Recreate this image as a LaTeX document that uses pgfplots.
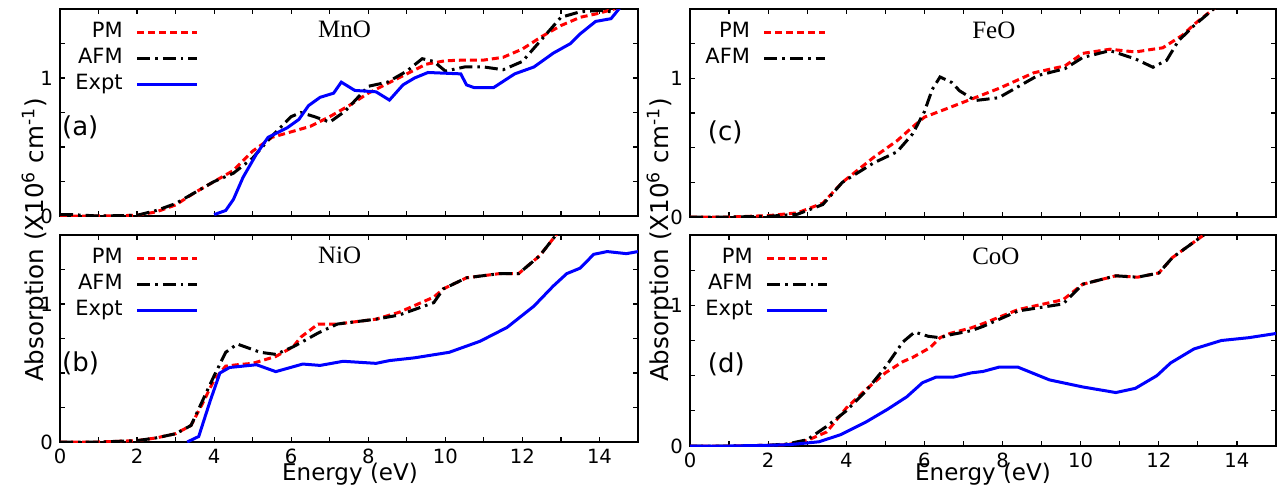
\documentclass[border=0pt]{standalone}
\usepackage{fontspec}
\setmainfont{DejaVu Sans}
\newfontfamily\seriffont{Liberation Serif}
\usepackage{pgfplots}
\pgfplotsset{compat=1.18}
\tikzset{
  ttl/.style={anchor=base west, inner sep=0pt, font=\seriffont\fontsize{12.5}{14}\selectfont},
  lbl/.style={anchor=base west, inner sep=0pt, font=\fontsize{13}{15}\selectfont},
}
\pgfplotsset{
  panel/.style={
    scale only axis, width=289pt, height=103.5pt,
    xmin=0, xmax=15, ymin=0, ymax=1.5,
    xtick={0,2,...,14}, minor xtick={1,3,...,15},
    ytick={0,1}, minor ytick={0.25,0.5,0.75,1.25},
    tick align=inside, major tick length=2.5pt, minor tick length=2.5pt,
    tick style={line width=0.6pt, black},
    axis line style={line width=0.8pt},
    /pgf/number format/assume math mode=true,
    tick label style={font=\fontsize{9.8}{12}\selectfont},
    legend plot pos=right, legend cell align=right,
    legend style={draw=none, fill=none, at={(axis description cs:0,1)}, anchor=north west, xshift=3pt, yshift=-3pt,
      font=\fontsize{10.5}{12}\selectfont, column sep=5pt, row sep=0pt,
      nodes={inner sep=1.5pt, text height=7.5pt, text depth=2.5pt}},
    legend image code/.code={\draw[#1] plot coordinates {(0cm,0cm) (0.53cm,0cm) (1.06cm,0cm)};},
  },
  pm/.style={red, line width=1.5pt, dash pattern=on 3.5pt off 2pt},
  afm/.style={black, line width=1.5pt, dash pattern=on 6.5pt off 2.5pt on 1.3pt off 2.5pt},
  ex/.style={blue, line width=1.5pt},
}
\begin{document}
\begin{tikzpicture}
\useasboundingbox (0,0) rectangle (638.5pt,-244.5pt);
% (a) MnO
\begin{axis}[panel, at={(30pt,-4.5pt)}, anchor=north west, xticklabels={}]
\addplot[pm] coordinates {(0,0) (1,0) (2,0.005) (2.5,0.03) (3,0.08) (3.5,0.17) (4,0.25) (4.5,0.33) (5,0.47) (5.5,0.57) (6,0.61) (6.5,0.65) (7,0.72) (7.5,0.8) (8,0.89) (8.5,0.96) (9,1.03) (9.5,1.1) (10,1.125) (10.5,1.13) (11,1.13) (11.5,1.15) (12,1.21) (12.5,1.3) (13,1.38) (13.5,1.44) (14,1.47) (14.5,1.51) (15,1.55)};
\addlegendentry{PM}
\addplot[afm] coordinates {(0,0.01) (0.3,0.01) (1,0) (2,0.005) (2.5,0.04) (3,0.09) (3.5,0.17) (4,0.25) (4.5,0.31) (5,0.42) (5.5,0.58) (6,0.72) (6.25,0.75) (6.6,0.72) (7,0.68) (7.4,0.76) (8,0.94) (8.5,0.97) (9,1.05) (9.4,1.14) (9.7,1.12) (10,1.05) (10.5,1.08) (11,1.08) (11.5,1.06) (12,1.12) (12.5,1.28) (13,1.44) (13.5,1.48) (14,1.49) (14.3,1.48) (14.6,1.55)};
\addlegendentry{AFM}
\addplot[ex] coordinates {(4.0,0.01) (4.3,0.04) (4.5,0.12) (4.75,0.28) (5.1,0.45) (5.4,0.57) (5.9,0.64) (6.2,0.7) (6.45,0.8) (6.75,0.86) (7.1,0.89) (7.3,0.97) (7.65,0.91) (8.2,0.9) (8.55,0.84) (8.9,0.95) (9.2,1.0) (9.55,1.04) (10.4,1.03) (10.55,0.95) (10.75,0.93) (11.25,0.93) (11.8,1.03) (12.3,1.08) (12.8,1.18) (13.25,1.25) (13.5,1.32) (13.9,1.41) (14.3,1.43) (14.65,1.55)};
\addlegendentry{Expt}
\node[ttl] at (axis description cs:0.446,0.86) {MnO};
\node[lbl] at (axis description cs:0.003,0.39) {(a)};
\end{axis}
% (b) NiO
\begin{axis}[panel, at={(30pt,-117.5pt)}, anchor=north west]
\addplot[pm] coordinates {(0,0) (1,0) (2,0.01) (2.5,0.03) (3,0.06) (3.4,0.12) (3.7,0.28) (4,0.45) (4.3,0.55) (4.6,0.56) (5,0.57) (5.6,0.62) (6.05,0.69) (6.25,0.76) (6.7,0.855) (7.2,0.855) (8.2,0.89) (8.8,0.94) (9.7,1.05) (9.95,1.11) (10.55,1.19) (11.4,1.22) (11.9,1.22) (12.45,1.35) (12.9,1.51) (13,1.55)};
\addlegendentry{PM}
\addplot[afm] coordinates {(0,0) (1,0) (2,0.01) (2.5,0.03) (3,0.06) (3.4,0.12) (3.7,0.3) (4,0.48) (4.3,0.65) (4.6,0.71) (5.2,0.65) (5.6,0.635) (6.05,0.69) (6.25,0.72) (6.7,0.79) (7.2,0.855) (8.2,0.89) (8.8,0.92) (9.7,1.01) (9.95,1.11) (10.55,1.19) (11.4,1.22) (11.9,1.22) (12.45,1.35) (12.9,1.51) (13,1.55)};
\addlegendentry{AFM}
\addplot[ex] coordinates {(3.3,0) (3.6,0.04) (3.9,0.3) (4.15,0.5) (4.4,0.54) (5.1,0.56) (5.6,0.51) (6.3,0.565) (6.75,0.555) (7.35,0.585) (8.2,0.57) (8.55,0.59) (9.2,0.61) (10.1,0.65) (10.9,0.73) (11.6,0.83) (12.3,0.985) (12.8,1.13) (13.15,1.22) (13.5,1.26) (13.85,1.36) (14.2,1.38) (14.7,1.365) (15,1.38)};
\addlegendentry{Expt}
\node[ttl] at (axis description cs:0.446,0.86) {NiO};
\node[lbl] at (axis description cs:0.003,0.34) {(b)};
\end{axis}
% (c) FeO
\begin{axis}[panel, width=293pt, height=104pt, at={(345pt,-4.5pt)}, anchor=north west, xticklabels={}]
\addplot[pm] coordinates {(0,0) (1,0) (2,0.01) (2.75,0.03) (3.4,0.1) (3.9,0.25) (4.7,0.43) (5.3,0.55) (5.7,0.65) (6.0,0.72) (6.65,0.79) (7.2,0.85) (7.93,0.93) (8.8,1.04) (9.6,1.09) (10.05,1.18) (10.75,1.21) (11.4,1.19) (11.85,1.21) (12.1,1.22) (12.6,1.31) (12.95,1.4) (13.4,1.5) (13.6,1.55)};
\addlegendentry{PM}
\addplot[afm] coordinates {(0,0) (1,0) (2,0.005) (2.75,0.02) (3.4,0.09) (3.9,0.25) (4.7,0.39) (5.3,0.47) (5.7,0.6) (6.0,0.76) (6.2,0.92) (6.4,1.01) (6.7,0.97) (6.9,0.91) (7.3,0.84) (7.9,0.86) (8.9,1.02) (9.6,1.07) (10.05,1.15) (10.75,1.2) (11.4,1.14) (11.85,1.08) (12.2,1.13) (12.5,1.27) (12.9,1.38) (13.4,1.5) (13.6,1.55)};
\addlegendentry{AFM}
\node[ttl] at (axis description cs:0.481,0.86) {FeO};
\node[lbl] at (axis description cs:0.03,0.37) {(c)};
\end{axis}
% (d) CoO
\begin{axis}[panel, width=293pt, height=105.5pt, at={(345pt,-117.5pt)}, anchor=north west]
\addplot[pm] coordinates {(0,0) (1,0) (2,0.005) (2.5,0.01) (3,0.04) (3.5,0.1) (4.0,0.27) (4.5,0.4) (5.0,0.52) (5.45,0.6) (5.7,0.63) (6.15,0.7) (6.4,0.77) (6.65,0.8) (7.2,0.84) (7.5,0.87) (8.4,0.97) (9.55,1.04) (10.05,1.15) (10.9,1.21) (11.45,1.2) (12.0,1.23) (12.35,1.34) (12.8,1.43) (13.25,1.52) (13.4,1.56)};
\addlegendentry{PM}
\addplot[afm] coordinates {(0,0) (1,0) (2,0.005) (2.5,0.015) (3,0.045) (3.5,0.14) (4.0,0.25) (4.5,0.39) (5.0,0.56) (5.45,0.74) (5.75,0.81) (6.1,0.78) (6.4,0.77) (6.65,0.79) (7.2,0.82) (7.5,0.85) (8.4,0.96) (9.55,1.01) (10.05,1.15) (10.9,1.21) (11.45,1.2) (12.0,1.23) (12.35,1.34) (12.8,1.43) (13.25,1.52) (13.4,1.56)};
\addlegendentry{AFM}
\addplot[ex] coordinates {(0,0) (1,0) (2,0.005) (2.56,0.01) (3.3,0.03) (3.85,0.08) (4.5,0.17) (5.05,0.26) (5.55,0.35) (5.95,0.45) (6.3,0.49) (6.75,0.49) (7.2,0.52) (7.5,0.53) (7.9,0.56) (8.4,0.56) (9.2,0.47) (10.05,0.42) (10.9,0.38) (11.4,0.41) (11.95,0.5) (12.3,0.59) (12.9,0.69) (13.6,0.75) (14.3,0.77) (15,0.8)};
\addlegendentry{Expt}
\node[ttl] at (axis description cs:0.481,0.86) {CoO};
\node[lbl] at (axis description cs:0.03,0.35) {(d)};
\end{axis}
\node[rotate=90, anchor=base, font=\fontsize{12.3}{14}\selectfont] at (21.5pt,-120pt) {Absorption (X10\textsuperscript{6} cm\textsuperscript{-1})};
\node[rotate=90, anchor=base, font=\fontsize{12.3}{14}\selectfont] at (334pt,-120pt) {Absorption (X10\textsuperscript{6} cm\textsuperscript{-1})};
\node[anchor=base, font=\fontsize{11.5}{14}\selectfont] at (175pt,-240pt) {Energy (eV)};
\node[anchor=base, font=\fontsize{11.5}{14}\selectfont] at (491.5pt,-240pt) {Energy (eV)};
\end{tikzpicture}
\end{document}
